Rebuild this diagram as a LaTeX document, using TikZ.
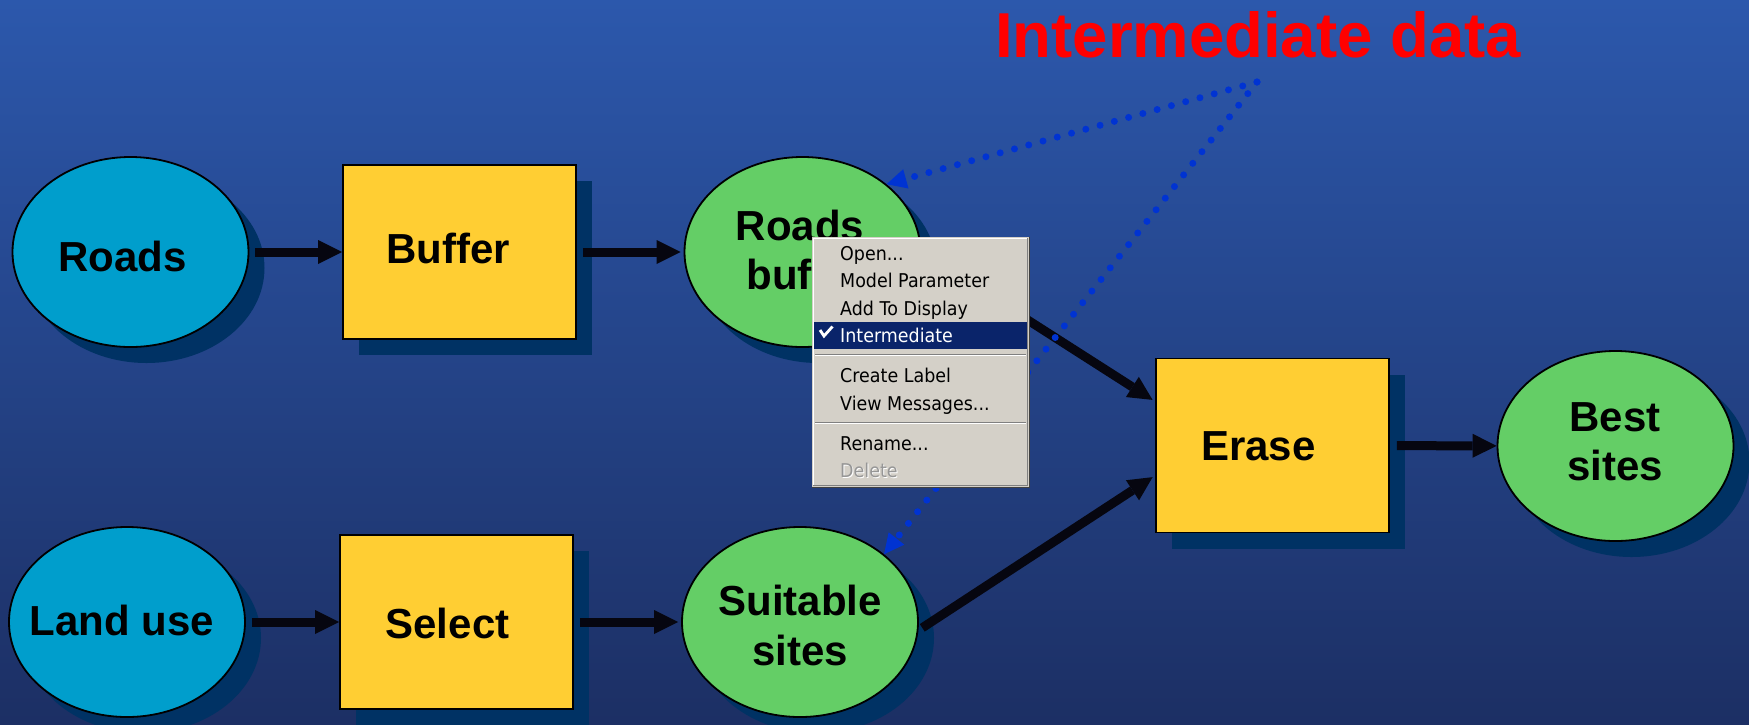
\documentclass[tikz,border=0pt]{standalone}
\usepackage{fontspec}
\setmainfont{Liberation Sans}
\newfontfamily\menufont[FakeStretch=0.92]{DejaVu Sans}
\usetikzlibrary{shapes.geometric,arrows.meta,shadows,calc}

\definecolor{bgtop}{RGB}{44,88,172}
\definecolor{bgbot}{RGB}{28,47,100}
\definecolor{shadowcol}{RGB}{0,50,100}
\definecolor{inputcol}{RGB}{0,158,204}
\definecolor{outputcol}{RGB}{100,206,102}
\definecolor{toolcol}{RGB}{255,206,51}
\definecolor{flowcol}{RGB}{6,6,16}
\definecolor{dotcol}{RGB}{0,51,210}
\definecolor{titlered}{RGB}{255,0,0}
\definecolor{menubg}{RGB}{212,208,200}
\definecolor{menuhl}{RGB}{10,36,106}
\definecolor{menudark}{RGB}{64,64,64}
\definecolor{menugray}{RGB}{128,128,128}
\definecolor{menudim}{RGB}{150,150,150}

\tikzset{
  boxshadow/.style={drop shadow={shadow xshift=16pt, shadow yshift=-16pt, fill=shadowcol, opacity=1}},
  datanode/.style={ellipse, draw=black, line width=1.8pt, fill=inputcol,
    minimum width=236pt, minimum height=190pt, inner sep=0pt, boxshadow},
  resultnode/.style={datanode, fill=outputcol},
  toolnode/.style={rectangle, draw=black, line width=1.8pt, fill=toolcol,
    minimum width=233pt, minimum height=174pt, inner sep=0pt, boxshadow},
  lbl/.style={anchor=base, inner sep=0pt, font=\bfseries\fontsize{42}{50}\selectfont},
  flow/.style={draw=flowcol, line width=9pt,
    -{Triangle[length=24pt,width=24pt,line width=0pt]}},
  dots/.style={draw=dotcol, line width=7pt, line cap=round, dash pattern=on 0pt off 14.8pt,
    -{Triangle[length=20pt,width=20pt,line width=0pt]}},
  menuitem/.style={anchor=base west, inner sep=0pt, font=\menufont\fontsize{19}{22}\selectfont},
}

\begin{document}
\begin{tikzpicture}[x=1pt,y=-1pt]
\useasboundingbox (0,0) rectangle (1749,724);
\shade[top color=bgtop, bottom color=bgbot] (0,0) rectangle (1749,724);

% model elements
\node[datanode]   (roads)   at (130.5,252) {};
\node[toolnode]   (buffer)  at (459.5,252) {};
\node[resultnode] (rbuf)    at (802.5,252) {};
\node[datanode]   (landuse) at (127,622) {};
\node[toolnode]   (select)  at (456.5,622) {};
\node[resultnode] (suit)    at (800,622) {};
\node[toolnode]   (erase)   at (1272.5,445.5) {};
\node[resultnode] (best)    at (1615.5,446) {};

% element labels
\node[lbl] (roads-t)   at (122.5,271) {Roads};
\node[lbl] (buffer-t)  at (448,263) {Buffer};
\node[lbl] (rbuf-t1)   at (800,240) {Roads};
\node[lbl] (rbuf-t2)   at (806,289) {buffer};
\node[lbl] (landuse-t) at (122,635) {Land use};
\node[lbl] (select-t)  at (447.5,638) {Select};
\node[lbl] (suit-t1)   at (800,615) {Suitable};
\node[lbl] (suit-t2)   at (800,665) {sites};
\node[lbl] (erase-t)   at (1258.5,460) {Erase};
\node[lbl] (best-t1)   at (1615,431) {Best};
\node[lbl] (best-t2)   at (1615,480) {sites};

% process flow
\draw[flow, shorten <=6pt] (roads) -- (buffer);
\draw[flow, shorten <=6pt, shorten >=3pt] (buffer) -- (rbuf);
\draw[flow, shorten <=6pt] (landuse) -- (select);
\draw[flow, shorten <=6pt, shorten >=3pt] (select) -- (suit);
\draw[flow, shorten <=7pt] (erase) -- (best);
\draw[flow, shorten <=6pt, shorten >=3pt] (rbuf.east) -- ($(erase.west)+(0,-44)$);
\draw[flow, shorten <=4pt, shorten >=3pt] ($(suit.east)+(0,8)$) -- ($(erase.west)+(0,30)$);

% callout
\node[anchor=base, inner sep=0pt, text=titlered, font=\bfseries\fontsize{63.5}{70}\selectfont]
  (title) at (1258,57.5) {Intermediate data};
\coordinate (apex) at (1257,82);
\draw[dots] (apex) -- (rbuf.north east);
\draw[dots] (apex) -- (suit.north east);

% context menu
\node[rectangle, fill=menubg, minimum width=217pt, minimum height=250pt, inner sep=0pt]
  (menu) at (920.5,362) {};
\draw[menudark, line width=1pt] (menu.north east) -- (menu.south east) -- (menu.south west);
\draw[white, line width=1pt] ($(menu.south west)+(1.5,-1.5)$) -- ($(menu.north west)+(1.5,1.5)$)
  -- ($(menu.north east)+(-1.5,1.5)$);
\draw[menugray, line width=1pt] ($(menu.north east)+(-1.5,1.5)$) -- ($(menu.south east)+(-1.5,-1.5)$)
  -- ($(menu.south west)+(1.5,-1.5)$);
\node[fill=menuhl, minimum width=213pt, minimum height=27pt, inner sep=0pt, anchor=north west]
  (hl) at (814,322) {};
\draw[menugray, line width=1pt] (815,354) -- (1026,354);
\draw[white, line width=1pt] (815,355.5) -- (1026,355.5);
\draw[menugray, line width=1pt] (815,422) -- (1026,422);
\draw[white, line width=1pt] (815,423.5) -- (1026,423.5);

\node[menuitem] (m-open)   at (840,260) {Open...};
\node[menuitem] (m-param)  at (840,287.5) {Model Parameter};
\node[menuitem] (m-add)    at (840,315) {Add To Display};
\draw[white, line width=2.8pt, line join=miter] (820,330) -- (824,336) -- (832.5,326.5);
\node[menuitem, text=white] (m-inter) at (840,342.5) {Intermediate};
\node[menuitem] (m-label)  at (840,382.5) {Create Label};
\node[menuitem] (m-msg)    at (840,410) {View Messages...};
\node[menuitem] (m-rename) at (840,450.5) {Rename...};
\node[menuitem, text=white]   (m-del-hi) at (841,478.5) {Delete};
\node[menuitem, text=menudim] (m-del)    at (840,477.5) {Delete};
\end{tikzpicture}
\end{document}
